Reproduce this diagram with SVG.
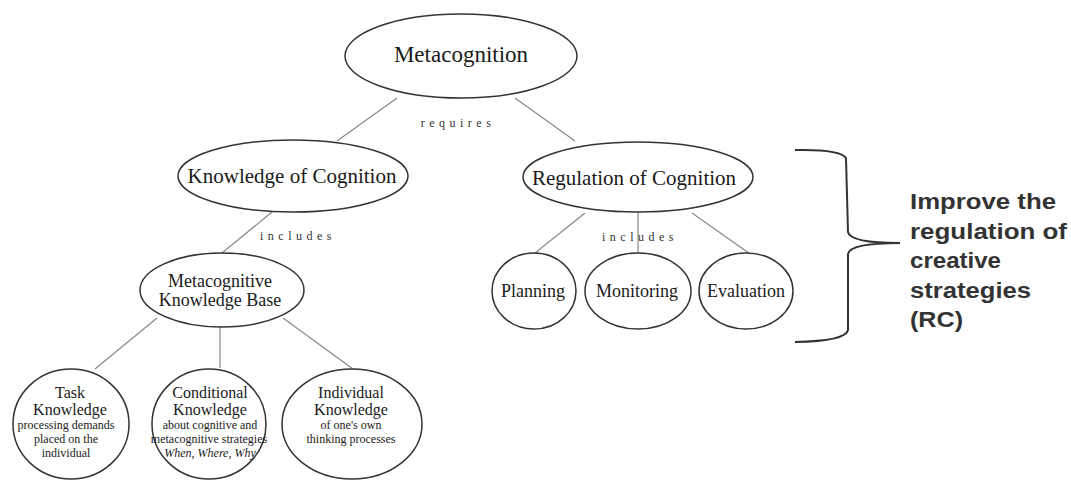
<svg xmlns="http://www.w3.org/2000/svg" width="1071" height="481" viewBox="0 0 1071 481">
<style>
.n{fill:#fff;stroke:#333;stroke-width:1.5}
.t{font-family:"Liberation Serif","Times New Roman",serif;fill:#1a1a1a;text-anchor:middle}
.s{font-size:12px}
.lbl{font-family:"Liberation Serif",serif;font-size:12px;fill:#333;letter-spacing:4.5px;text-anchor:middle}
.c line{stroke:#888;stroke-width:1.2}
.b{font-family:"Liberation Sans",Arial,sans-serif;font-weight:bold;font-size:22px;fill:#333}
</style>
<rect width="1071" height="481" fill="#fff"/>
<g class="c" id="connectors">
<line x1="397" y1="98" x2="337" y2="141"/>
<line x1="515" y1="98" x2="575" y2="141"/>
<line x1="272" y1="212" x2="222" y2="253"/>
<line x1="585" y1="213" x2="535" y2="253"/>
<line x1="638" y1="212" x2="638" y2="253"/>
<line x1="692" y1="213" x2="753" y2="256"/>
<line x1="157" y1="318" x2="95" y2="369"/>
<line x1="220" y1="327" x2="220" y2="368"/>
<line x1="283" y1="318" x2="353" y2="369"/>
<text class="lbl" x="458" y="127">requires</text>
<text class="lbl" x="298" y="240">includes</text>
<text class="lbl" x="640" y="241">includes</text>
</g>
<g id="metacognition">
<ellipse class="n" cx="461" cy="56" rx="116" ry="42"/>
<text class="t" x="461" y="62" font-size="23">Metacognition</text>
</g>
<g id="knowledge">
<ellipse class="n" cx="293" cy="176" rx="115" ry="36"/>
<text class="t" x="292" y="183" font-size="21">Knowledge of Cognition</text>
</g>
<g id="regulation">
<ellipse class="n" cx="638" cy="177" rx="115" ry="35"/>
<text class="t" x="634" y="185" font-size="21">Regulation of Cognition</text>
</g>
<g id="mkb">
<ellipse class="n" cx="222" cy="290" rx="82" ry="37"/>
<text class="t" x="220" y="287" font-size="18">Metacognitive</text>
<text class="t" x="220" y="306" font-size="18">Knowledge Base</text>
</g>
<g id="planning">
<ellipse class="n" cx="534" cy="291" rx="42" ry="38"/>
<text class="t" x="533" y="297" font-size="18">Planning</text>
</g>
<g id="monitoring">
<ellipse class="n" cx="638" cy="291" rx="53" ry="38"/>
<text class="t" x="637" y="297" font-size="18">Monitoring</text>
</g>
<g id="evaluation">
<ellipse class="n" cx="746" cy="291" rx="47" ry="38"/>
<text class="t" x="746" y="297" font-size="18">Evaluation</text>
</g>
<g id="task">
<ellipse class="n" cx="71" cy="424" rx="58" ry="55"/>
<text class="t" x="70" y="398" font-size="16">Task</text>
<text class="t" x="70" y="415" font-size="16">Knowledge</text>
<text class="t s" x="66" y="429">processing demands</text>
<text class="t s" x="66" y="443">placed on the</text>
<text class="t s" x="66" y="457">individual</text>
</g>
<g id="conditional">
<ellipse class="n" cx="209" cy="424" rx="57" ry="55"/>
<text class="t" x="210" y="398" font-size="16">Conditional</text>
<text class="t" x="210" y="415" font-size="16">Knowledge</text>
<text class="t s" x="210" y="429">about cognitive and</text>
<text class="t s" x="209" y="443">metacognitive strategies</text>
<text class="t s" x="210" y="457" font-style="italic">When, Where, Why</text>
</g>
<g id="individual">
<ellipse class="n" cx="352" cy="424" rx="70" ry="55"/>
<text class="t" x="351" y="398" font-size="16">Individual</text>
<text class="t" x="351" y="415" font-size="16">Knowledge</text>
<text class="t s" x="351" y="429">of one's own</text>
<text class="t s" x="351" y="443">thinking processes</text>
</g>
<g id="brace">
<path d="M795,150 Q840,149 846,158 L848,232 Q850,243 900,243 Q850,243 848,254 L848,330 Q846,341 795,342" fill="none" stroke="#333" stroke-width="2"/>
<text class="b" x="910" y="209" textLength="146" lengthAdjust="spacingAndGlyphs">Improve the</text>
<text class="b" x="910" y="239" textLength="157" lengthAdjust="spacingAndGlyphs">regulation of</text>
<text class="b" x="910" y="268" textLength="91" lengthAdjust="spacingAndGlyphs">creative</text>
<text class="b" x="910" y="298" textLength="121" lengthAdjust="spacingAndGlyphs">strategies</text>
<text class="b" x="910" y="327" textLength="53" lengthAdjust="spacingAndGlyphs">(RC)</text>
</g>
</svg>
